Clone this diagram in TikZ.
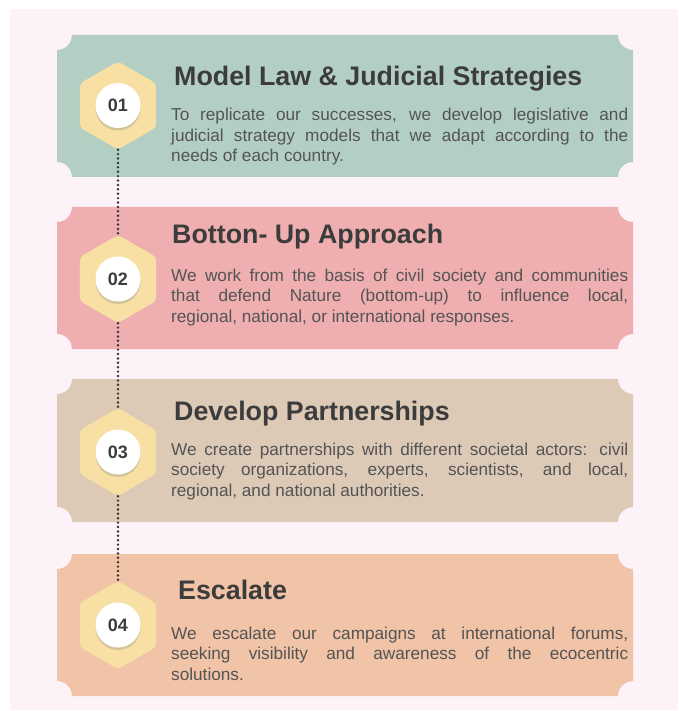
\documentclass[tikz,border=0pt]{standalone}
\usepackage{fontspec}
\setmainfont{Liberation Sans}
\usetikzlibrary{positioning,shapes.geometric,shadows}
\definecolor{pagepink}{RGB}{253,242,248}
\definecolor{cardgreen}{RGB}{179,207,195}
\definecolor{cardrose}{RGB}{239,175,176}
\definecolor{cardsand}{RGB}{220,202,183}
\definecolor{cardpeach}{RGB}{241,195,167}
\definecolor{hexgold}{RGB}{248,224,164}
\definecolor{headgray}{RGB}{60,60,60}
\definecolor{bodygray}{RGB}{84,84,84}
\definecolor{dotgray}{RGB}{50,50,50}
\begin{document}
\begin{tikzpicture}[x=1pt,y=-1pt,
  ticket/.style 2 args={insert path={(72,#1) -- (618,#1) arc[start angle=180,end angle=90,radius=15] -- (633,#2-15) arc[start angle=270,end angle=180,radius=15] -- (72,#2) arc[start angle=0,end angle=-90,radius=15] -- (57,#1+15) arc[start angle=90,end angle=0,radius=15] -- cycle}},
  hexa/.style={regular polygon,regular polygon sides=6,shape border rotate=90,fill=hexgold,
               minimum size=88pt,inner sep=0pt,rounded corners=4pt},
  badge/.style={circle,fill=white,minimum size=45pt,inner sep=0pt,text=headgray,
                font=\fontsize{18}{20}\selectfont\bfseries,
                drop shadow={shadow xshift=0pt,shadow yshift=-2.5pt,opacity=.3}},
  head/.style={anchor=base west,inner sep=0pt,text=headgray,font=\fontsize{26.8}{30}\selectfont\bfseries},
  body/.style={anchor=base west,inner sep=0pt,text=bodygray,text width=457pt,align=justify,
               font=\fontsize{17.2}{20.5}\selectfont},
  dots/.style={draw=dotgray,line width=2.7pt,line cap=round,dash pattern=on 0pt off 4.4pt}
]
\useasboundingbox (0,0) rectangle (678,711);
\fill[pagepink] (10,9) rectangle (678,710);
\fill[cardgreen] [ticket={35}{177}];
\fill[cardrose] [ticket={207}{349}];
\fill[cardsand] [ticket={379}{522}];
\fill[cardpeach] [ticket={554}{696}];
\node[hexa] (hex1) at (118,105.5) {};
\node[hexa] (hex2) at (118,279) {};
\node[hexa] (hex3) at (118,452) {};
\node[hexa] (hex4) at (118,625) {};
\draw[dots] (hex1) -- (hex2);
\draw[dots] (hex2) -- (hex3);
\draw[dots] (hex3) -- (hex4);
\node[badge] (num1) at (hex1.center) {01};
\node[badge] (num2) at (hex2.center) {02};
\node[badge] (num3) at (hex3.center) {03};
\node[badge] (num4) at (hex4.center) {04};
\node[head] (ttl1) at (174,86) {Model Law \& Judicial Strategies};
\node[body] (txt1) at (171,121) {To replicate our successes, we develop legislative and\linebreak judicial strategy models that we adapt according to the\linebreak needs of each country.};
\node[head] (ttl2) at (172,243) {Botton- Up Approach};
\node[body] (txt2) at (171,281) {We work from the basis of civil society and communities\linebreak that defend Nature (bottom-up) to influence local,\linebreak regional, national, or international responses.};
\node[head] (ttl3) at (174,420) {Develop Partnerships};
\node[body] (txt3) at (171,455) {We create partnerships with different societal actors: civil\linebreak society organizations, experts, scientists, and local,\linebreak regional, and national authorities.};
\node[head] (ttl4) at (178,599) {Escalate};
\node[body] (txt4) at (171,639) {We escalate our campaigns at international forums,\linebreak seeking visibility and awareness of the ecocentric\linebreak solutions.};
\end{tikzpicture}
\end{document}
